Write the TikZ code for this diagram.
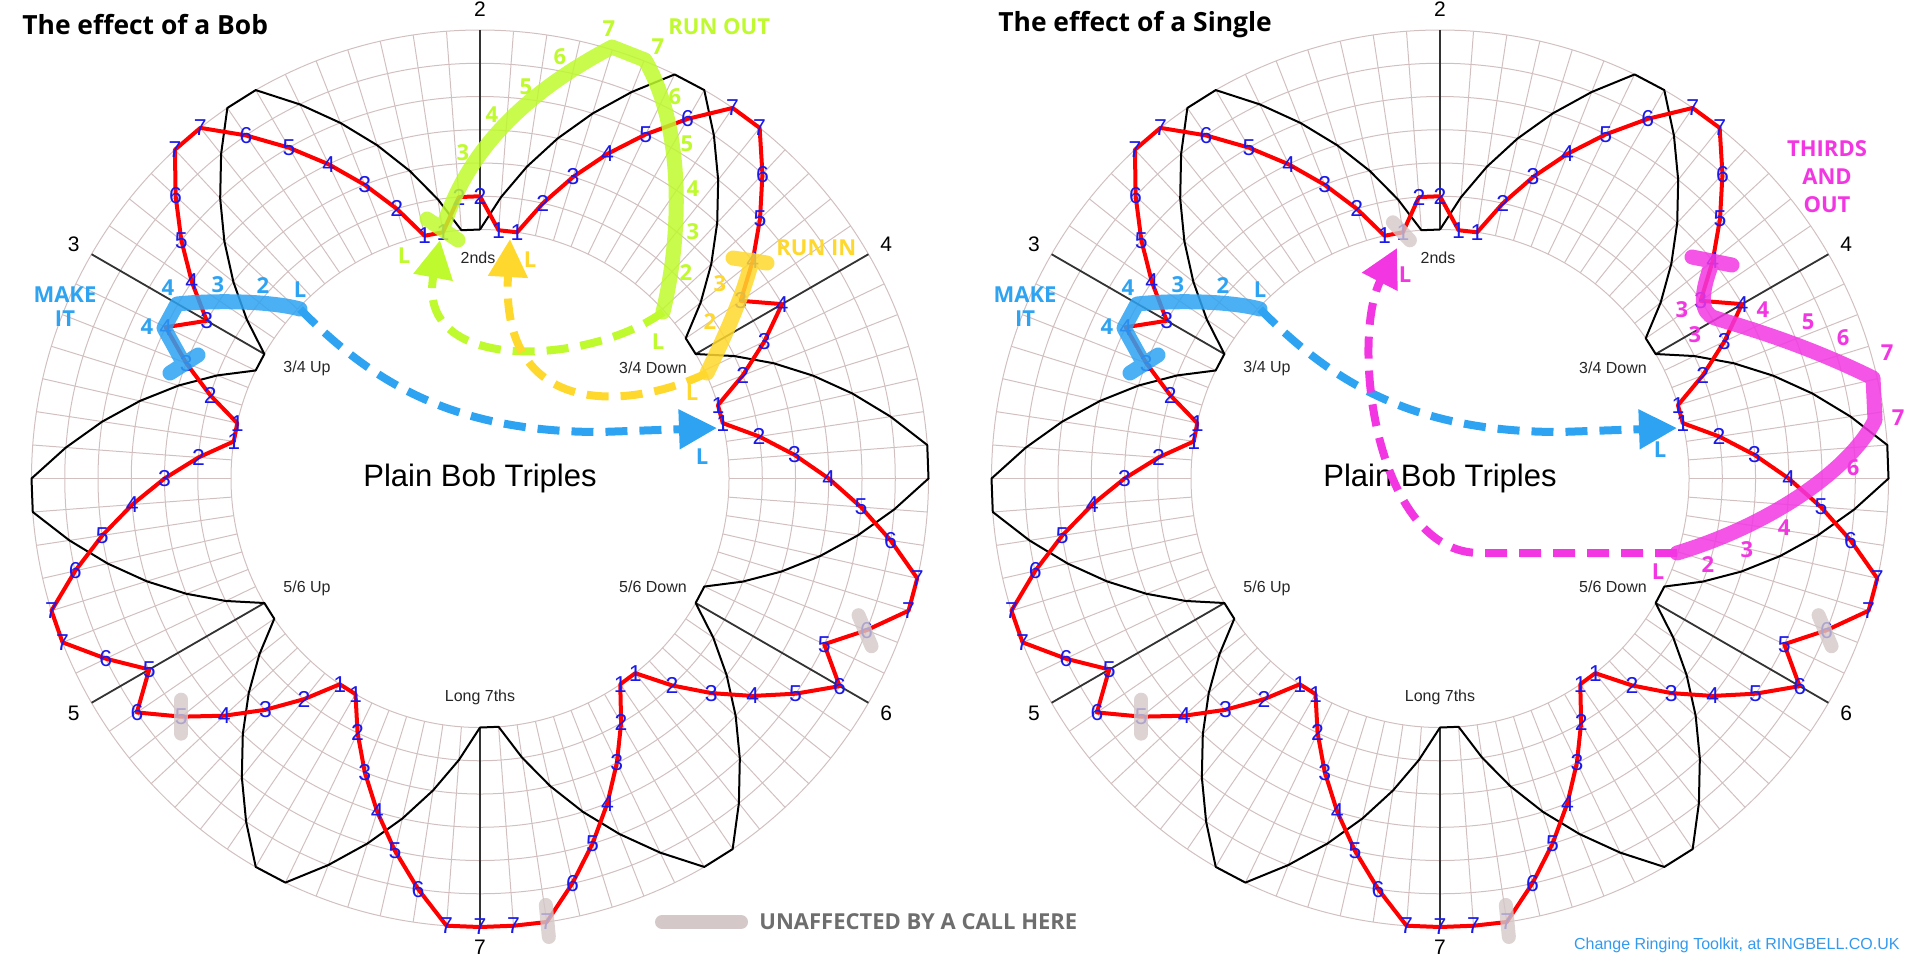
\documentclass[tikz,border=0pt]{standalone}
\usepackage{fontspec}
\setmainfont{Liberation Sans}
\newfontfamily\callfont{Open Sans}
\usetikzlibrary{arrows.meta}

\definecolor{gridpink}{RGB}{210,192,192}
\definecolor{placeblue}{RGB}{25,25,235}
\definecolor{makeblue}{RGB}{45,163,242}
\definecolor{runoutgreen}{RGB}{190,250,45}
\definecolor{runinyellow}{RGB}{255,216,45}
\definecolor{thirdsmagenta}{RGB}{242,55,226}
\definecolor{unaffgrey}{RGB}{212,200,200}
\definecolor{legendgrey}{RGB}{110,110,110}
\definecolor{creditblue}{RGB}{51,153,238}

% place of the working bell at each row of the plain course
\def\workplaces{2,1,1,2,3,4,5,6,7,7,6,5,4,3,4,3,2,1,1,2,3,4,5,6,7,7,6,5,6,5,4,3,2,1,1,2,3,4,5,6,7,7,7,7,6,5,4,3,2,1,1,2,3,4,5,6,5,6,7,7,6,5,4,3,2,1,1,2,3,4,3,4,5,6,7,7,6,5,4,3,2,1,1,2}

\begin{document}
\begin{tikzpicture}[x=0.5pt, y=-0.5pt,
  declare function={placer(\p)=249+33.25*(\p-1); trebleplace(\t)=min(mod(\t,14)+1,14-mod(\t,14));},
  gridline/.style={gridpink, line width=0.5pt},
  leadline/.style={black!80, line width=0.9pt},
  trebleline/.style={black, line width=1pt, line join=round},
  workline/.style={red, line width=2pt, line join=round},
  place/.style={placeblue, font=\fontsize{11.5}{12}\selectfont, inner sep=0pt},
  leadlabel/.style={font=\fontsize{10.5}{12}\selectfont, inner sep=0pt},
  worklabel/.style={black!85, font=\fontsize{8}{10}\selectfont, inner sep=0pt},
  band/.style={line width=7.5pt, line cap=round, line join=round, opacity=0.85},
  route/.style={line width=4pt, dash pattern=on 11pt off 6pt, -{Triangle[length=19pt, width=19pt]}},
  calltext/.style={font=\callfont\bfseries\fontsize{11}{13}\selectfont, inner sep=0pt, align=center},
  unaffected/.style={unaffgrey, line width=7pt, line cap=round, opacity=0.8}
]
\useasboundingbox (0,0) rectangle (1920,960);

\foreach \cx/\w in {480/L,1440/R} {
\begin{scope}[shift={({\cx-480},0)}]
  % grid of places and rows
  \foreach \p in {1,...,7}
    \draw[gridline] (480,478.5) circle[radius={placer(\p)}];
  \foreach \n in {0,...,83}
    \draw[gridline] ({480+249*cos(90-\n*30/7)},{478.5-249*sin(90-\n*30/7)}) -- ({480+448.5*cos(90-\n*30/7)},{478.5-448.5*sin(90-\n*30/7)});
  % lead ends
  \foreach \a/\bell in {90/2,30/4,-30/6,-90/7,-150/5,150/3} {
    \draw[leadline] ({480+249*cos(\a)},{478.5-249*sin(\a)}) -- ({480+448.5*cos(\a)},{478.5-448.5*sin(\a)});
    \node[leadlabel] (\w-bell\bell) at ({480+469*cos(\a)},{478.5-469*sin(\a)}) {\bell};
  }
  % treble
  \draw[trebleline] plot[variable=\t, samples at={0,...,84}] ({480+placer(trebleplace(\t))*cos(90-\t*30/7)},{478.5-placer(trebleplace(\t))*sin(90-\t*30/7)});
  % working bell
  \foreach \p [count=\n from 0] in \workplaces
    \coordinate (\w-p\n) at ({480+placer(\p)*cos(90-\n*30/7)},{478.5-placer(\p)*sin(90-\n*30/7)});
  \draw[workline] (\w-p0) \foreach \n in {1,...,83} {-- (\w-p\n)} -- cycle;
  \foreach \p [count=\n from 0] in \workplaces
    \node[place] (\w-\n) at (\w-p\n) {\p};
  % names of the work
  \node[worklabel] (\w-2nds) at (478,258) {2nds};
  \node[worklabel] (\w-34down) at (653,368) {3/4 Down};
  \node[worklabel] (\w-56down) at (653,587) {5/6 Down};
  \node[worklabel] (\w-long) at (480,697) {Long 7ths};
  \node[worklabel] (\w-56up) at (307,588) {5/6 Up};
  \node[worklabel] (\w-34up) at (307,368) {3/4 Up};
  \node[font=\fontsize{15.5}{18}\selectfont] (\w-method) at (480,478) {Plain Bob Triples};
  % make the bob
  \coordinate (\w-make-L) at (300,309);
  \coordinate (\w-make-tip) at (717,428);
  \draw[band, makeblue] (\w-make-L) .. controls (270,301) and (215,300) .. (177,304) -- (164,328) -- (184,364) (170,373) -- (198,355);
  \draw[route, makeblue] (\w-make-L) .. controls (370,380) and (450,432) .. (600,432) -- (\w-make-tip);
  \node[calltext, makeblue] (\w-make) at (65,307) {MAKE\\[-1pt]IT};
  \foreach \x/\y/\s [count=\k] in {300/290/L,263/286/2,218/285/3,168/288/4,147/327/4}
    \node[calltext, makeblue] (\w-make\k) at (\x,\y) {\s};
  % unaffected places
  \draw[unaffected] ([shift={(-1,-17)}]\w-40.center) -- ([shift={(2,15)}]\w-40.center);
  \draw[unaffected] ([shift={(0,-17)}]\w-54.center) -- ([shift={(0,17)}]\w-54.center);
  \draw[unaffected] ([shift={(-8,-15)}]\w-26.center) -- ([shift={(5,16)}]\w-26.center);
\end{scope}
}

% the bob
\node[calltext, makeblue] (bob-L) at (702,457) {L};
\coordinate (runout-L) at (663,312);
\coordinate (runout-top) at (645,60);
\coordinate (runout-turn) at (612,47);
\coordinate (runout-end) at (443,228);
\coordinate (runout-tip) at (440,240);
\draw[band, runoutgreen] (runout-L) .. controls (685,220) and (680,120) .. (runout-top) -- (runout-turn) .. controls (540,85) and (470,140) .. (runout-end) (427,219) -- (458,240);
\draw[route, runoutgreen] (runout-L) .. controls (590,365) and (415,375) .. (runout-tip);
\coordinate (runin-L) at (707,373);
\coordinate (runin-end) at (752,260);
\coordinate (runin-tip) at (510,239);
\draw[band, runinyellow] (runin-L) .. controls (728,330) and (745,290) .. (runin-end) (733,258) -- (767,263);
\draw[route, runinyellow] (runin-L) .. controls (630,410) and (500,420) .. (runin-tip);
\node[calltext, runoutgreen, anchor=west] (runout) at (668,27) {RUN OUT};
\foreach \x/\y/\s [count=\k] in {609/29/7,658/47/7,560/57/6,526/87/5,492/115/4,463/153/3,675/97/6,687/144/5,693/189/4,693/232/3,686/273/2,658/342/L,404/256/L}
  \node[calltext, runoutgreen] (runout\k) at (\x,\y) {\s};
\node[calltext, runinyellow, anchor=west] (runin) at (776,248) {RUN IN};
\foreach \x/\y/\s [count=\k] in {720/284/3,710/322/2,692/393/L,530/260/L}
  \node[calltext, runinyellow] (runin\k) at (\x,\y) {\s};

% the single
\node[calltext, makeblue] (single-L) at (1660,450) {L};
\coordinate (thirds-L) at (1677,553);
\coordinate (thirds-tip) at (1397,248);
\draw[band, thirdsmagenta] (thirds-L) .. controls (1770,525) and (1850,470) .. (1875,420) -- (1873,378) .. controls (1800,342) and (1740,326) .. (1715,318) .. controls (1700,313) and (1700,295) .. (1712,263) (1692,257) -- (1732,265);
\draw[route, thirdsmagenta] (thirds-L) -- (1480,553) .. controls (1375,553) and (1350,340) .. (thirds-tip);
\node[calltext, thirdsmagenta] (thirds) at (1827,177) {THIRDS\\[1pt]AND\\[1pt]OUT};
\foreach \x/\y/\s [count=\k] in {1682/310/3,1695/335/3,1763/310/4,1808/322/5,1843/338/6,1887/353/7,1898/418/7,1853/468/6,1784/528/4,1747/550/3,1708/565/2,1658/572/L,1405/275/L}
  \node[calltext, thirdsmagenta] (thirds\k) at (\x,\y) {\s};
\draw[unaffected] ([shift={(-10,-10)}]R-82.center) -- ([shift={(7,8)}]R-82.center);

% titles, key and credit
\node[anchor=west, inner sep=0pt, font=\callfont\bfseries\fontsize{13.2}{16}\selectfont] (bobtitle) at (22,25) {The effect of a Bob};
\node[anchor=west, inner sep=0pt, font=\callfont\bfseries\fontsize{13.2}{16}\selectfont] (singletitle) at (998,25) {The effect of a Single};
\draw[unaffected, opacity=1] (662,922) -- (741,922);
\node[anchor=west, inner sep=0pt, legendgrey, font=\callfont\bfseries\fontsize{11}{12}\selectfont] (key) at (759,922) {UNAFFECTED BY A CALL HERE};
\node[anchor=east, inner sep=0pt, creditblue, font=\fontsize{8}{10}\selectfont] (credit) at (1900,945) {Change Ringing Toolkit, at RINGBELL.CO.UK};
\end{tikzpicture}
\end{document}
